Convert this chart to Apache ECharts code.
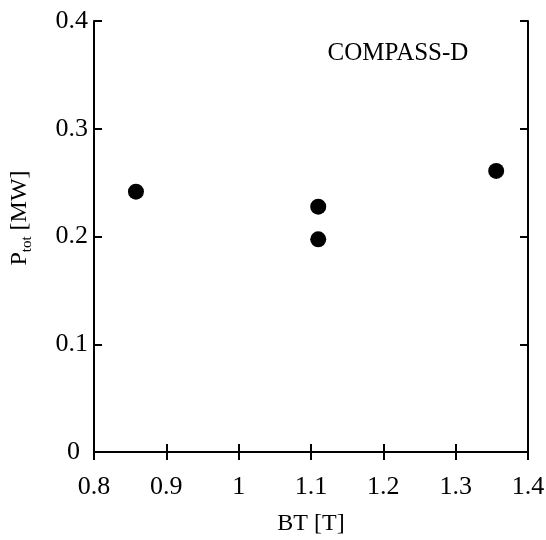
<!DOCTYPE html>
<html>
<head>
<meta charset="utf-8">
<script src="https://cdn.jsdelivr.net/npm/echarts@6/dist/echarts.min.js"></script>
<style>html,body{margin:0;padding:0;background:#fff;}#c{width:546px;height:540px;}</style>
</head>
<body>
<div id="c"></div>
<script>
const btValues = [0.858, 1.110, 1.110, 1.356];
const ptotValues = [0.2416, 0.2277, 0.1974, 0.2609];
const xTicks = {min: 0.8, max: 1.4, interval: 0.1};
const yTicks = {min: 0, max: 0.4, interval: 0.1};
const titleText = 'COMPASS-D';

const font = '"Liberation Serif", "DejaVu Serif", serif';
const chart = echarts.init(document.getElementById('c'), null, {renderer: 'canvas'});
const line = {show: true, lineStyle: {color: '#000', width: 2}};
const tick = {show: true, inside: true, length: 8, lineStyle: {color: '#000', width: 2}};
chart.setOption({
  backgroundColor: '#fff',
  animation: false,
  title: {
    text: titleText, left: 393, top: 36, textAlign: 'center',
    textStyle: {fontFamily: font, fontSize: 25, fontWeight: 'normal', color: '#000'}
  },
  grid: {left: 94, right: 18, top: 21, bottom: 88, outerBoundsMode: 'none', containLabel: false},
  xAxis: [
    {type: 'value', min: xTicks.min, max: xTicks.max, interval: xTicks.interval,
     axisLine: line, axisTick: tick, splitLine: {show: false},
     axisLabel: {fontFamily: font, fontSize: 26, color: '#000', margin: 22},
     name: 'BT [T]', nameLocation: 'middle', nameGap: 60,
     nameTextStyle: {fontFamily: font, fontSize: 24, color: '#000'}},
    {type: 'value', position: 'top', min: xTicks.min, max: xTicks.max, interval: xTicks.interval,
     axisLine: line, axisTick: tick, splitLine: {show: false}, axisLabel: {show: false}}
  ],
  yAxis: [
    {type: 'value', min: yTicks.min, max: yTicks.max, interval: yTicks.interval,
     axisLine: line, axisTick: tick, splitLine: {show: false},
     axisLabel: {fontFamily: font, fontSize: 26, color: '#000', margin: 6,
       formatter: v => v === 0 ? '{z|0}' : String(v),
       rich: {z: {fontFamily: font, fontSize: 26, color: '#000', padding: [0, 8, 0, 0]}}},
     name: '{m|P}{s|tot}{m| [MW]}', nameLocation: 'middle', nameGap: 62, nameRotate: 90,
     nameTextStyle: {padding: [0, 0, 0, 37], rich: {
       m: {fontFamily: font, fontSize: 24, color: '#000'},
       s: {fontFamily: font, fontSize: 15, color: '#000', verticalAlign: 'bottom', padding: [0, 0, -3, 0]}
     }}},
    {type: 'value', position: 'right', min: yTicks.min, max: yTicks.max, interval: yTicks.interval,
     axisLine: line, axisTick: tick, splitLine: {show: false}, axisLabel: {show: false}}
  ],
  series: [{
    type: 'scatter', xAxisIndex: 0, yAxisIndex: 0,
    symbol: 'circle', symbolSize: 16,
    itemStyle: {color: '#000', opacity: 1},
    data: btValues.map((v, i) => [v, ptotValues[i]])
  }]
});
</script>
</body>
</html>
